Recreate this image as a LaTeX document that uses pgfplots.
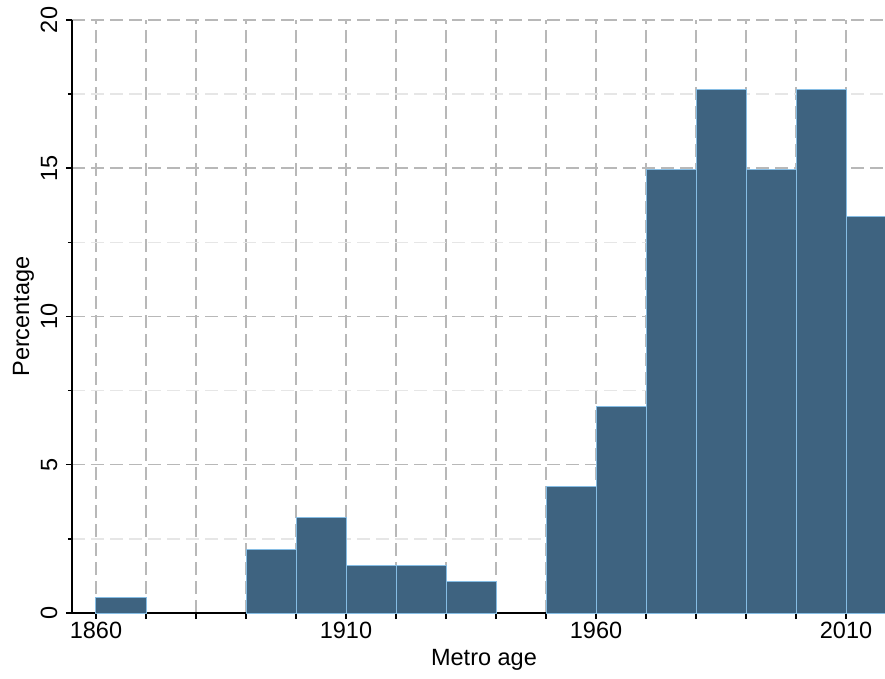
\documentclass[border=0pt]{standalone}
\usepackage{fontspec}
\setmainfont{Liberation Sans}
\usepackage{pgfplots}
\pgfplotsset{compat=1.18}
\definecolor{barfill}{HTML}{3E6380}
\definecolor{baredge}{HTML}{86BDE4}
\definecolor{gridmaj}{HTML}{B8B8B8}
\definecolor{gridmin}{HTML}{E6E6E6}
\begin{document}
\begin{tikzpicture}[font=\fontsize{23.5}{28}\selectfont]
\useasboundingbox (-72pt,-66pt) rectangle (813pt,613pt);
\begin{axis}[
  anchor=south west, at={(0pt,0pt)},
  scale only axis,
  width=824pt, height=593pt,
  xmin=1855.2, xmax=2020,
  ymin=0, ymax=20,
  axis x line*=bottom, axis y line*=left,
  axis line style={line width=2pt, black},
  every tick/.style={black, line width=1.5pt},
  tick align=outside,
  major tick length=6pt, minor tick length=4pt,
  xtick={1860,1870,...,2010},
  xticklabels={1860,,,,,1910,,,,,1960,,,,,2010},
  ytick={0,5,...,20},
  minor ytick={2.5,7.5,...,17.5},
  xmajorgrids, ymajorgrids, yminorgrids,
  major grid style={gridmaj, line width=1.5pt, dash pattern=on 13pt off 6pt},
  minor grid style={gridmin, line width=1.5pt, dash pattern=on 13pt off 6pt},
  /pgf/number format/assume math mode=true,
  /pgf/number format/1000 sep={},
  yticklabel style={rotate=90, anchor=south},
  yticklabel shift=5pt,
  xlabel={Metro age},
  ylabel={Percentage},
  xlabel style={yshift=-3pt},
  clip=true,
]
\addplot[ybar interval, fill=barfill, draw=baredge, line width=1pt] coordinates {
  (1860,0.535) (1870,0.535)
};
\addplot[ybar interval, fill=barfill, draw=baredge, line width=1pt] coordinates {
  (1890,2.139) (1900,3.209) (1910,1.604) (1920,1.604) (1930,1.070) (1940,1.070)
};
\addplot[ybar interval, fill=barfill, draw=baredge, line width=1pt] coordinates {
  (1950,4.278) (1960,6.952) (1970,14.973) (1980,17.647) (1990,14.973) (2000,17.647) (2010,13.369) (2020,13.369)
};
\end{axis}
\end{tikzpicture}
\end{document}
